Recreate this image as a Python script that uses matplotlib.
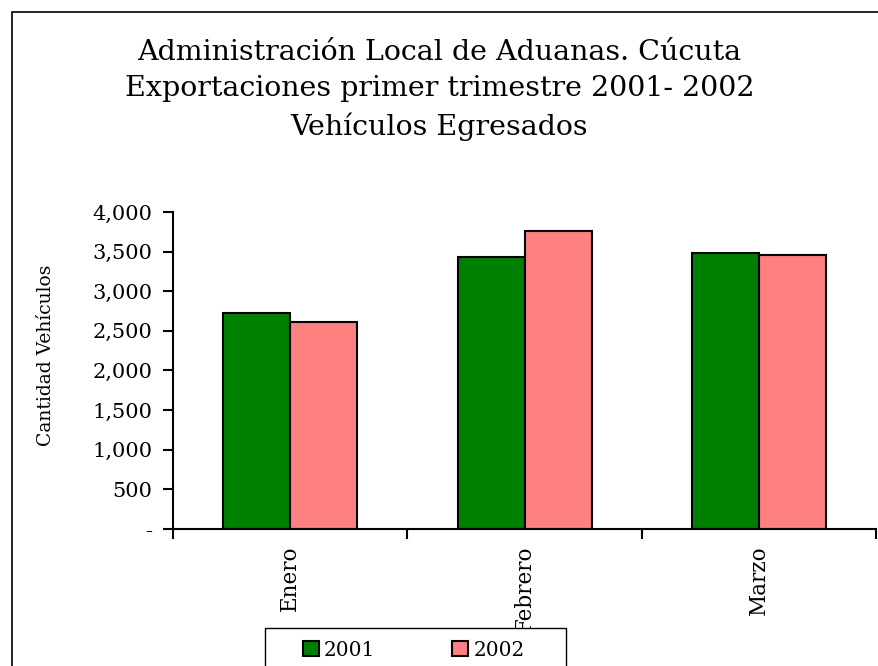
import numpy as np
import matplotlib
matplotlib.use('Agg')
import matplotlib.pyplot as plt
from matplotlib.patches import Rectangle

# Datos
meses = ['Enero', 'Febrero', 'Marzo']
valores_2001 = [2725, 3428, 3483]
valores_2002 = [2608, 3764, 3457]
series = ['2001', '2002']
y_ticks = [0, 500, 1000, 1500, 2000, 2500, 3000, 3500, 4000]

plt.rcParams['font.family'] = ['DejaVu Serif']

W, H = 879, 666
fig = plt.figure(figsize=(W / 100, H / 100), dpi=100)
ax = fig.add_axes([0.197, 0.2057, 0.7997, 0.476])

# Marco exterior del grafico
fig.patches.append(Rectangle((12 / W, -0.2), 1.2, 1.2 - 12 / H,
                             transform=fig.transFigure, fill=False,
                             edgecolor='black', linewidth=1.2))

x = np.arange(len(meses))
w = 0.286
ax.bar(x - w / 2, valores_2001, w, color='#008000', edgecolor='black', linewidth=1.5, label=series[0])
ax.bar(x + w / 2, valores_2002, w, color='#FF8080', edgecolor='black', linewidth=1.5, label=series[1])

ax.set_xlim(-0.5, 2.5)
ax.set_ylim(0, 4000)
ax.set_yticks(y_ticks)
ax.set_yticklabels(['-' if v == 0 else f'{v:,}' for v in y_ticks], fontsize=15)

# ticks del eje x en los limites de las categorias
ax.set_xticks([-0.5, 0.5, 1.5, 2.5])
ax.set_xticklabels([])
ax.set_xticks(x, minor=True)
ax.set_xticklabels(meses, minor=True, rotation=90, fontsize=15.5, va='top')
ax.tick_params(axis='x', which='minor', length=0, pad=12)
ax.tick_params(axis='x', which='major', direction='out', length=7, width=1.5)
ax.tick_params(axis='y', direction='out', length=7, width=1.5, pad=8)

for s in ['top', 'right']:
    ax.spines[s].set_visible(False)
for s in ['left', 'bottom']:
    ax.spines[s].set_linewidth(1.5)

ax.set_ylabel('Cantidad Vehículos', fontsize=13.5)
ax.yaxis.set_label_coords(-0.168, 0.549)

fig.text(0.5, 1 - 39 / H, 'Administración Local de Aduanas. Cúcuta\n'
         'Exportaciones primer trimestre 2001- 2002\nVehículos Egresados',
         ha='center', va='top', fontsize=20.5, linespacing=1.45)

# Leyenda: marco dibujado aparte
fig.patches.append(Rectangle((265 / W, -0.1), (566 - 265) / W, 0.1 + 1 - 628 / H,
                             transform=fig.transFigure, fill=True, facecolor='white',
                             edgecolor='black', linewidth=1.0, zorder=3))
leg = fig.legend(loc='center left', bbox_to_anchor=(303 / W, 1 - 650 / H), ncol=2,
                 fontsize=14.5, frameon=False,
                 handlelength=0.8, handleheight=0.8, columnspacing=3.8, handletextpad=0.25,
                 borderpad=0, borderaxespad=0)
leg.set_zorder(4)

fig.savefig('out.png', dpi=100)
